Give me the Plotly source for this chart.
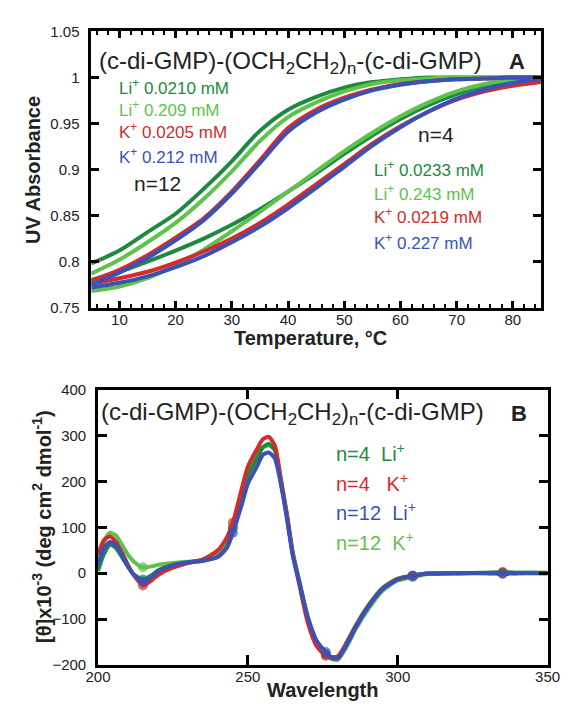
import plotly.graph_objects as go

# ---------------- Panel A data: UV absorbance vs temperature ----------------
temp = [5, 10, 15, 20, 25, 30, 35, 40, 45, 50, 55, 60, 65, 70, 75, 80, 85]

n12_li_0210 = [0.798, 0.812, 0.832, 0.852, 0.879, 0.909, 0.942, 0.965, 0.979, 0.989, 0.995, 0.998, 1.000, 1.000, 1.000, 1.000, 1.000]
n12_li_209 = [0.787, 0.802, 0.821, 0.842, 0.868, 0.898, 0.931, 0.957, 0.973, 0.985, 0.993, 0.997, 0.999, 1.000, 1.000, 1.000, 1.000]
n12_k_0205 = [0.779, 0.791, 0.807, 0.826, 0.847, 0.876, 0.910, 0.945, 0.965, 0.978, 0.987, 0.993, 0.996, 0.998, 0.999, 1.000, 1.000]
n12_k_212 = [0.775, 0.788, 0.804, 0.823, 0.845, 0.874, 0.907, 0.941, 0.962, 0.976, 0.986, 0.992, 0.996, 0.998, 0.999, 1.000, 1.000]

n4_li_0233 = [0.780, 0.789, 0.800, 0.812, 0.825, 0.840, 0.857, 0.876, 0.896, 0.917, 0.937, 0.955, 0.970, 0.982, 0.991, 0.996, 0.999]
n4_li_243 = [0.768, 0.773, 0.782, 0.796, 0.813, 0.833, 0.854, 0.876, 0.898, 0.920, 0.940, 0.958, 0.973, 0.985, 0.993, 0.998, 1.000]
n4_k_0219 = [0.776, 0.782, 0.789, 0.799, 0.811, 0.825, 0.842, 0.862, 0.884, 0.906, 0.928, 0.947, 0.963, 0.976, 0.985, 0.991, 0.995]
n4_k_227 = [0.772, 0.777, 0.784, 0.794, 0.806, 0.821, 0.838, 0.858, 0.880, 0.903, 0.926, 0.946, 0.963, 0.977, 0.987, 0.994, 0.999]

temp_ticks = [10, 20, 30, 40, 50, 60, 70, 80]
uv_ticks = [0.75, 0.8, 0.85, 0.9, 0.95, 1.0, 1.05]
uv_tick_text = ["0.75", "0.8", "0.85", "0.9", "0.95", "1", "1.05"]

# ---------------- Panel B data: CD spectra ----------------
wavelength = [200, 202, 204, 206, 208, 210, 212, 215, 218, 220, 225, 230, 235, 240, 243, 245, 248, 250,
              253, 255, 257, 259, 261, 263, 265, 267, 270, 273, 276, 278, 280, 283, 286, 290, 295, 300,
              305, 310, 320, 330, 335, 340, 350]
cd_n4_li = [5, 42, 62, 55, 35, 14, -3, -14, -4, 6, 18, 24, 27, 36, 58, 98, 168, 212,
            250, 274, 282, 268, 198, 125, 42, -15, -100, -152, -177, -186, -185, -150, -114, -72, -32, -12,
            -5, -1, 0, 1, 2, 1, 1]
cd_n4_k = [40, 72, 80, 68, 45, 18, -5, -27, -15, -4, 12, 22, 30, 50, 78, 110, 185, 232,
           270, 292, 297, 278, 205, 128, 40, -20, -108, -160, -180, -183, -181, -152, -116, -74, -34, -13,
           -6, -1, 0, 0, 1, 0, 0]
cd_n12_li = [15, 55, 68, 60, 40, 15, -4, -18, -8, 4, 17, 23, 27, 35, 55, 88, 150, 195,
             232, 258, 263, 250, 195, 120, 38, -15, -95, -148, -172, -184, -186, -156, -118, -75, -35, -14,
             -6, -1, 0, 0, -2, 0, 0]
cd_n12_k = [20, 68, 88, 82, 62, 40, 25, 13, 15, 18, 22, 25, 28, 40, 62, 100, 172, 218,
            255, 275, 278, 270, 205, 130, 45, -12, -98, -150, -178, -187, -189, -160, -122, -80, -38, -16,
            -9, -2, 0, 1, 2, 1, 1]
marker_wavelengths = [215, 245, 276, 305, 335]

wl_ticks = [200, 250, 300, 350]
cd_ticks = [-200, -100, 0, 100, 200, 300, 400]

# ---------------- styles ----------------
DKGREEN = "#1e8a3e"
LTGREEN = "#5fc24c"
RED = "#d42b2b"
BLUE = "#3a52b8"
FONT = "Liberation Sans, Arial, Helvetica, sans-serif"
TXT = "#222222"

fig = go.Figure()

top_series = [
    (n12_li_0210, DKGREEN), (n4_li_0233, DKGREEN),
    (n12_li_209, LTGREEN), (n4_li_243, LTGREEN),
    (n12_k_0205, RED), (n4_k_0219, RED),
    (n12_k_212, BLUE), (n4_k_227, BLUE),
]
for ys, col in top_series:
    fig.add_trace(go.Scatter(x=temp, y=ys, mode="lines", xaxis="x", yaxis="y",
                             line=dict(color=col, width=4, shape="spline", smoothing=0.8),
                             showlegend=False, hoverinfo="skip"))

bottom_series = [(cd_n12_k, LTGREEN), (cd_n4_li, DKGREEN), (cd_n4_k, RED), (cd_n12_li, BLUE)]
for ys, col in bottom_series:
    sizes = [10 if w in marker_wavelengths else 0 for w in wavelength]
    fig.add_trace(go.Scatter(x=wavelength, y=ys, mode="lines+markers", xaxis="x2", yaxis="y2",
                             line=dict(color=col, width=4, shape="spline", smoothing=0.6),
                             marker=dict(color=col, size=sizes, line=dict(width=0)),
                             showlegend=False, hoverinfo="skip"))

axis_common = dict(showline=True, linewidth=2.5, linecolor="black", mirror="ticks",
                   ticks="inside", tickwidth=2.5, tickcolor="black", showgrid=False, zeroline=False,
                   tickfont=dict(family=FONT, size=15, color=TXT))

fig.update_layout(
    width=574, height=709, margin=dict(l=0, r=0, t=0, b=0),
    paper_bgcolor="white", plot_bgcolor="white",
    xaxis=dict(domain=[82 / 574, 553 / 574], anchor="y", range=[5, 85], tickvals=temp_ticks,
               ticklen=7, minor=dict(dtick=2, tick0=0, ticks="inside", ticklen=4, tickwidth=1.5,
                                     tickcolor="black"),
               ticklabelstandoff=-3, **axis_common),
    yaxis=dict(domain=[1 - 306 / 709, 1 - 23 / 709], anchor="x", range=[0.75, 1.05], tickvals=uv_ticks,
               ticktext=uv_tick_text, ticklen=8, ticklabelstandoff=6, **axis_common),
    xaxis2=dict(domain=[89 / 574, 560 / 574], anchor="y2", range=[200, 350], tickvals=wl_ticks,
                ticklen=10, ticklabelstandoff=-4, **axis_common),
    yaxis2=dict(domain=[1 - 672 / 709, 1 - 390 / 709], anchor="x2", range=[-200, 400], tickvals=cd_ticks,
                ticklen=9, ticklabelstandoff=6, **axis_common),
)

ann = []
title_text = "(c-di-GMP)-(OCH<sub>2</sub>CH<sub>2</sub>)<sub>n</sub>-(c-di-GMP)"
# Panel A texts
ann.append(dict(text=title_text, x=40.5, y=1.0158, xref="x", yref="y", showarrow=False,
                xanchor="center", yanchor="middle", font=dict(family=FONT, size=24, color=TXT)))
ann.append(dict(text="<b>A</b>", x=80.8, y=1.017, xref="x", yref="y", showarrow=False,
                xanchor="center", yanchor="middle", font=dict(family=FONT, size=22, color=TXT)))
left_labels = [("Li<sup>+</sup> 0.0210 mM", DKGREEN, 0.9893), ("Li<sup>+</sup> 0.209 mM", LTGREEN, 0.9660),
               ("K<sup>+</sup> 0.0205 mM", RED, 0.9418), ("K<sup>+</sup> 0.212 mM", BLUE, 0.9145)]
for t, c, yv in left_labels:
    ann.append(dict(text=t, x=9.5, y=yv, xref="x", yref="y", xanchor="left", yanchor="middle",
                    showarrow=False, font=dict(family=FONT, size=17, color=c)))
right_labels = [("Li<sup>+</sup> 0.0233 mM", DKGREEN, 0.901), ("Li<sup>+</sup> 0.243 mM", LTGREEN, 0.8745),
                ("K<sup>+</sup> 0.0219 mM", RED, 0.850), ("K<sup>+</sup> 0.227 mM", BLUE, 0.8213)]
for t, c, yv in right_labels:
    ann.append(dict(text=t, x=55, y=yv, xref="x", yref="y", xanchor="left", yanchor="middle",
                    showarrow=False, font=dict(family=FONT, size=17, color=c)))
ann.append(dict(text="n=12", x=12.3, y=0.885, xref="x", yref="y", xanchor="left", yanchor="middle",
                showarrow=False, font=dict(family=FONT, size=21, color=TXT)))
ann.append(dict(text="n=4", x=62.7, y=0.938, xref="x", yref="y", xanchor="left", yanchor="middle",
                showarrow=False, font=dict(family=FONT, size=21, color=TXT)))

# Panel B texts
ann.append(dict(text=title_text, x=265, y=349, xref="x2", yref="y2", showarrow=False,
                xanchor="center", yanchor="middle", font=dict(family=FONT, size=24, color=TXT)))
ann.append(dict(text="<b>B</b>", x=340.6, y=349, xref="x2", yref="y2", showarrow=False,
                xanchor="center", yanchor="middle", font=dict(family=FONT, size=22, color=TXT)))
nb = "\u00a0"
b_labels = [("n=4" + nb * 2 + "Li<sup>+</sup>", DKGREEN, 262), ("n=4" + nb * 3 + "K<sup>+</sup>", RED, 197),
            ("n=12" + nb * 2 + "Li<sup>+</sup>", BLUE, 134), ("n=12" + nb * 2 + "K<sup>+</sup>", LTGREEN, 70)]
for t, c, yv in b_labels:
    ann.append(dict(text=t, x=278.8, y=yv, xref="x2", yref="y2", xanchor="left", yanchor="middle",
                    showarrow=False, font=dict(family=FONT, size=20, color=c)))

# Axis titles
ann.append(dict(text="<b>UV Absorbance</b>", x=21 / 574, y=1 - 165 / 709, xref="paper", yref="paper",
                xanchor="center", yanchor="middle", textangle=-90, showarrow=False,
                font=dict(family=FONT, size=20, color=TXT)))
ann.append(dict(text="<b>Temperature, °C</b>", x=312 / 574, y=1 - 337 / 709, xref="paper", yref="paper",
                xanchor="center", yanchor="middle", showarrow=False,
                font=dict(family=FONT, size=20, color=TXT)))
ann.append(dict(text="<b>[θ]x10<sup>-3</sup> (deg cm<sup>2</sup> dmol<sup>-1</sup>)</b>", x=30 / 574,
                y=1 - 531 / 709, xref="paper", yref="paper", xanchor="center", yanchor="middle",
                textangle=-90, showarrow=False, font=dict(family=FONT, size=20, color=TXT)))
ann.append(dict(text="<b>Wavelength</b>", x=325 / 574, y=1 - 698 / 709, xref="paper", yref="paper",
                xanchor="center", yanchor="middle", showarrow=False,
                font=dict(family=FONT, size=20, color=TXT)))

fig.update_layout(annotations=ann)
fig.write_html("out.html", config={"displayModeBar": False},
               post_script="document.body.style.margin='0';")
